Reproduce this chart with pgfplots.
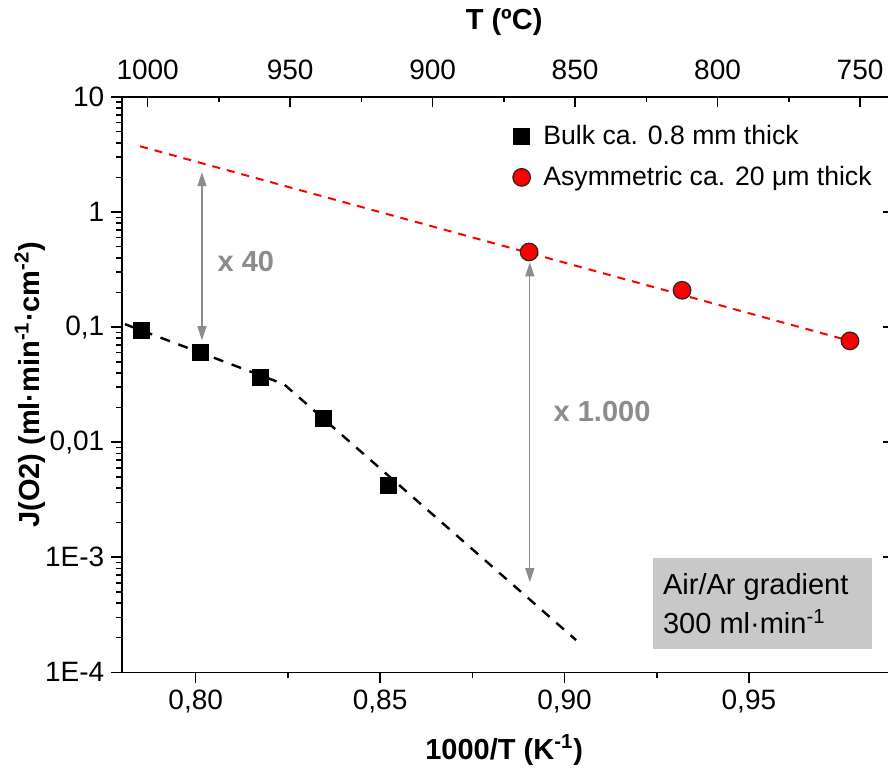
\documentclass[border=0pt]{standalone}
\usepackage{fontspec}
\setmainfont{Liberation Sans}
\usepackage{pgfplots}
\pgfplotsset{compat=1.18}
\usetikzlibrary{arrows.meta}
\definecolor{boxgray}{RGB}{200,200,200}
\definecolor{anngray}{RGB}{140,140,140}
\definecolor{cred}{RGB}{255,0,0}
\begin{document}
\begin{tikzpicture}
\useasboundingbox (-61.15pt,-50.85pt) rectangle (382.85pt,336.15pt);
\pgfplotsset{
  base/.style={scale only axis, width=381.85pt, height=287.65pt, at={(0,0)}, anchor=south west,
    tick style={line width=0.8pt, black},
    axis line style={line width=0.8pt},
    tick label style={font=\fontsize{14}{16}\selectfont},
  }
}
% top temperature axis
\begin{axis}[base, xmin=740.9, xmax=1008.9, x dir=reverse,
  axis x line*=top, axis y line=none, ymin=0, ymax=1,
  xtick={750,800,850,900,950,1000}, xticklabels={750,800,850,900,950,1000},
  minor x tick num=1, tick align=inside, major tick length=5pt, minor tick length=2.5pt,
  xtick pos=upper, xticklabel pos=upper, xticklabel shift=5pt,
  xlabel={\textbf{T (ºC)}},
  xlabel style={font=\fontsize{14.5}{17}\selectfont, at={(axis description cs:0.5,1.130)}, anchor=center}]
\end{axis}
% right ticks only
\begin{axis}[base, ymode=log, ymin=1e-4, ymax=10, xmin=0, xmax=1,
  axis x line=none, axis y line*=right, y axis line style={draw=none},
  ytick={1e-4,1e-3,1e-2,1e-1,1,10}, yticklabels={}, yminorticks=false,
  tick align=center, major tick length=3pt, ytick pos=right]
\end{axis}
% main axis
\begin{axis}[base, xmin=0.78010, xmax=0.98717, ymode=log, ymin=1e-4, ymax=10,
  axis x line*=bottom, axis y line*=left,
  xtick pos=lower, ytick pos=left, xticklabel pos=lower, yticklabel pos=left,
  tick align=outside, major tick length=5.5pt, minor tick length=3pt,
  xtick={0.8,0.85,0.9,0.95}, xticklabels={{0,80},{0,85},{0,90},{0,95}},
  minor x tick num=1,
  ytick={1e-4,1e-3,1e-2,1e-1,1,10}, yticklabels={1E-4,1E-3,{0,01},{0,1},1,10},
  minor ytick={2e-4,3e-4,4e-4,5e-4,6e-4,7e-4,8e-4,9e-4,
               2e-3,3e-3,4e-3,5e-3,6e-3,7e-3,8e-3,9e-3,
               2e-2,3e-2,4e-2,5e-2,6e-2,7e-2,8e-2,9e-2,
               0.2,0.3,0.4,0.5,0.6,0.7,0.8,0.9,
               2,3,4,5,6,7,8,9},
  xlabel={\textbf{1000/T (K\textsuperscript{-1})}},
  xlabel style={font=\fontsize{14.5}{17}\selectfont, at={(axis description cs:0.5,-0.135)}, anchor=center},
  ylabel={\textbf{J(O2) (ml·min\textsuperscript{-1}·cm\textsuperscript{-2})}},
  ylabel style={font=\fontsize{14.5}{17}\selectfont, at={(axis description cs:-0.121,0.5)}, anchor=center},
  legend style={draw=none, fill=none, at={(axis description cs:0.503,0.966)}, anchor=north west,
    font=\fontsize{13.3}{16}\selectfont, row sep=5.5pt},
  legend cell align=left,
  clip=false]
\addplot[black, line width=1.2pt, dash pattern=on 5pt off 4.5pt, forget plot]
  coordinates {(0.78083,0.106) (0.82394,0.0319) (0.90314,1.905e-4)};
\addplot[cred, line width=1pt, dash pattern=on 4pt off 3.5pt, forget plot]
  coordinates {(0.7849,3.73) (0.9774,0.0759)};
\addplot[only marks, mark=square*, mark size=4pt, black]
  coordinates {(0.78537,0.094) (0.80117,0.0601) (0.81743,0.0365) (0.83458,0.01625) (0.8523,0.00423)};
\addlegendentry{\hspace{4.5pt}Bulk ca. 0.8 mm thick}
\addplot[only marks, mark=*, mark size=4.4pt, mark options={draw=black!85, fill=cred, line width=0.6pt}]
  coordinates {(0.8904,0.450) (0.93187,0.209) (0.9774,0.0759)};
\addlegendentry{\hspace{4.5pt}Asymmetric ca. 20 μm thick}
\draw[anngray, line width=0.6pt, {Triangle[length=7pt,width=4.5pt]}-{Triangle[length=7pt,width=4.5pt]}]
  (axis cs:0.8017,2.22) -- (axis cs:0.8017,0.0769);
\draw[anngray, line width=0.6pt, {Triangle[length=7pt,width=4.5pt]}-{Triangle[length=7pt,width=4.5pt]}]
  (axis cs:0.8906,0.366) -- (axis cs:0.8906,6.07e-4);
\node[anngray, font=\bfseries\fontsize{14.5}{17}\selectfont] at (axis description cs:0.1618,0.7132) {x 40};
\node[anngray, font=\bfseries\fontsize{14.5}{17}\selectfont] at (axis description cs:0.6282,0.4526) {x 1.000};
\fill[boxgray] (axis description cs:0.6948,0.040) rectangle (axis description cs:0.9813,0.198);
\node[anchor=base west, inner sep=0pt, font=\fontsize{14.5}{17}\selectfont] at (axis description cs:0.7076,0.1344) {Air/Ar gradient};
\node[anchor=base west, inner sep=0pt, font=\fontsize{14.5}{17}\selectfont] at (axis description cs:0.7076,0.0666) {300 ml·min\textsuperscript{-1}};
\end{axis}
\end{tikzpicture}
\end{document}
